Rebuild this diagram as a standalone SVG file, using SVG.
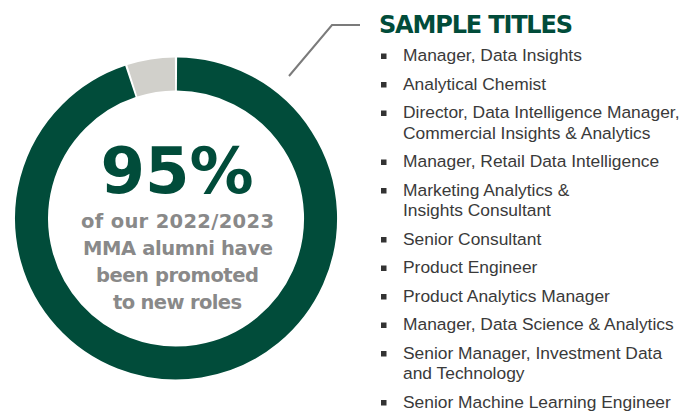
<svg xmlns="http://www.w3.org/2000/svg" width="683" height="414" viewBox="0 0 683 414">
<style>
.big{font-family:"DejaVu Sans",sans-serif;font-weight:bold;font-size:64px;fill:#014c3a;text-anchor:middle}
.sub{font-family:"DejaVu Sans",sans-serif;font-weight:bold;font-size:19.5px;fill:#898989;text-anchor:middle}
.head{font-family:"DejaVu Sans",sans-serif;font-weight:bold;font-size:24px;fill:#014c3a}
.item{font-family:"Liberation Sans",Arial,sans-serif;font-size:17.4px;fill:#3a3a3a}
.bul{fill:#333}
</style>
<rect width="683" height="414" fill="#fff"/>
<g id="ring">
<path d="M177.0,74.0 A144.5,144.5 0 1 1 130.4,81.4" fill="none" stroke="#014c3a" stroke-width="33"/>
<path d="M132.3,80.8 A144.5,144.5 0 0 1 175.0,74.0" fill="none" stroke="#d1d0cb" stroke-width="33"/>
</g>
<g id="center-text">
<text class="big" x="177" y="193" textLength="153">95%</text>
<text class="sub" x="177.5" y="228" textLength="193">of our 2022/2023</text>
<text class="sub" x="178" y="255" textLength="190">MMA alumni have</text>
<text class="sub" x="177.5" y="282" textLength="163">been promoted</text>
<text class="sub" x="177.5" y="308.5" textLength="129">to new roles</text>
</g>
<g id="connectors">
<polyline points="289,76 332,25 360,25" fill="none" stroke="#7b7b7b" stroke-width="2"/>
</g>
<g id="titles">
<text class="head" x="379" y="33" textLength="194">SAMPLE TITLES</text>
<g class="bul">
<rect x="381" y="53.5" width="5.5" height="5.5"/>
<rect x="381" y="82" width="5.5" height="5.5"/>
<rect x="381" y="110.5" width="5.5" height="5.5"/>
<rect x="381" y="159.5" width="5.5" height="5.5"/>
<rect x="381" y="188" width="5.5" height="5.5"/>
<rect x="381" y="237" width="5.5" height="5.5"/>
<rect x="381" y="265.5" width="5.5" height="5.5"/>
<rect x="381" y="294" width="5.5" height="5.5"/>
<rect x="381" y="322.5" width="5.5" height="5.5"/>
<rect x="381" y="351" width="5.5" height="5.5"/>
<rect x="381" y="400" width="5.5" height="5.5"/>
</g>
<text class="item" x="403" y="61">Manager, Data Insights</text>
<text class="item" x="403" y="89.5">Analytical Chemist</text>
<text class="item" x="403" y="118">Director, Data Intelligence Manager,</text>
<text class="item" x="403" y="138.5">Commercial Insights &amp; Analytics</text>
<text class="item" x="403" y="167">Manager, Retail Data Intelligence</text>
<text class="item" x="403" y="195.5">Marketing Analytics &amp;</text>
<text class="item" x="403" y="216">Insights Consultant</text>
<text class="item" x="403" y="244.5">Senior Consultant</text>
<text class="item" x="403" y="273">Product Engineer</text>
<text class="item" x="403" y="301.5">Product Analytics Manager</text>
<text class="item" x="403" y="330">Manager, Data Science &amp; Analytics</text>
<text class="item" x="403" y="358.5">Senior Manager, Investment Data</text>
<text class="item" x="403" y="379">and Technology</text>
<text class="item" x="403" y="407.5">Senior Machine Learning Engineer</text>
</g>
</svg>
